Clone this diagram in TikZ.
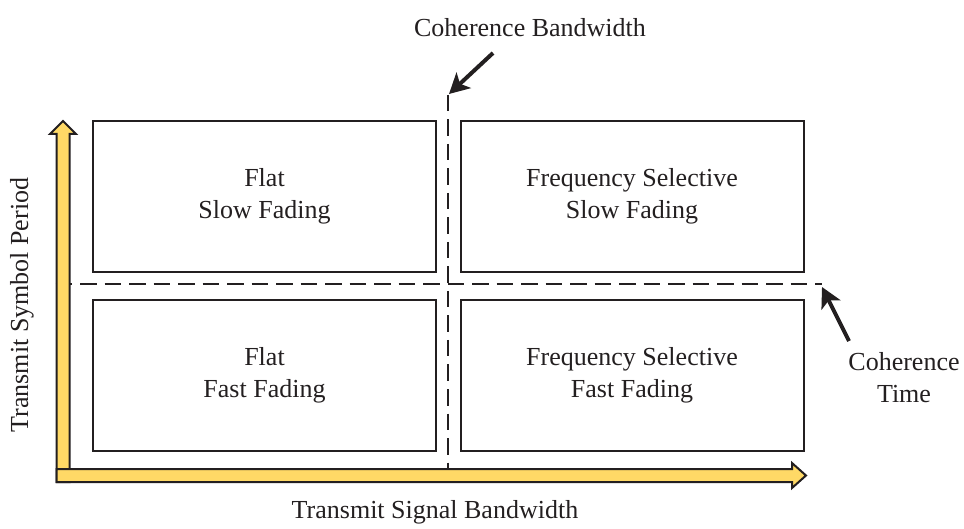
\documentclass[tikz,border=0pt]{standalone}
\usepackage{fontspec}
\setmainfont{Liberation Serif}
\usetikzlibrary{arrows.meta}
\definecolor{ink}{HTML}{231F20}
\definecolor{axisfill}{HTML}{FFD966}
\begin{document}
\begin{tikzpicture}[x=0.5pt,y=-0.5pt,
  every node/.style={text=ink, font=\fontsize{13}{16}\selectfont, align=center},
  region/.style={draw=ink, line width=1pt, inner sep=0pt,
                 minimum width=171.5pt, minimum height=75.5pt},
  limit/.style={draw=ink, line width=1.4pt, dash pattern=on 8.25pt off 4pt},
  pointer/.style={draw=ink, line width=2pt,
                  -{Stealth[length=10pt,width=10.5pt,inset=2.5pt]}},
  axisbar/.style={fill=axisfill, draw=ink, line width=1pt, line join=miter},
  caption/.style={inner sep=0pt}]
\useasboundingbox (0,0) rectangle (964,529);

% the four fading regions
\node[region] (fs) at (264.5,196.5) {Flat\\Slow Fading};
\node[region] (ss) at (632,196.5) {Frequency Selective\\Slow Fading};
\node[region] (ff) at (264.5,375.5) {Flat\\Fast Fading};
\node[region] (sf) at (632,375.5) {Frequency Selective\\Fast Fading};

% coherence limits
\coordinate (bwtop) at (448,95);
\coordinate (bwbot) at (448,476);
\coordinate (ctleft) at (55.5,284);
\coordinate (ctright) at (822,284);
\draw[limit] (bwtop) -- (bwbot);
\draw[limit] (ctleft) -- (ctright);

% axes
\draw[axisbar] (56.5,482) -- (56.5,134) -- (50,134) -- (63,121) -- (76,134)
  -- (69.5,134) -- (69.5,482) -- cycle;
\draw[axisbar] (56.5,469) -- (792,469) -- (792,463) -- (806,475.5) -- (792,488)
  -- (792,482) -- (56.5,482) -- cycle;

% labels
\node[caption] (cb) at (530,28) {Coherence Bandwidth};
\node[caption] (ct) at (904,378) {Coherence\\Time};
\node[caption] (xl) at (435,512) {Transmit Signal Bandwidth};
\node[caption, rotate=90] (yl) at (22,305) {Transmit Symbol Period};

% pointers from the labels to the limits
\coordinate (cbtail) at (493,53);
\coordinate (cbtip) at (449,94);
\coordinate (cttail) at (849,341);
\coordinate (cttip) at (822,287);
\draw[pointer] (cbtail) -- (cbtip);
\draw[pointer] (cttail) -- (cttip);
\end{tikzpicture}
\end{document}
